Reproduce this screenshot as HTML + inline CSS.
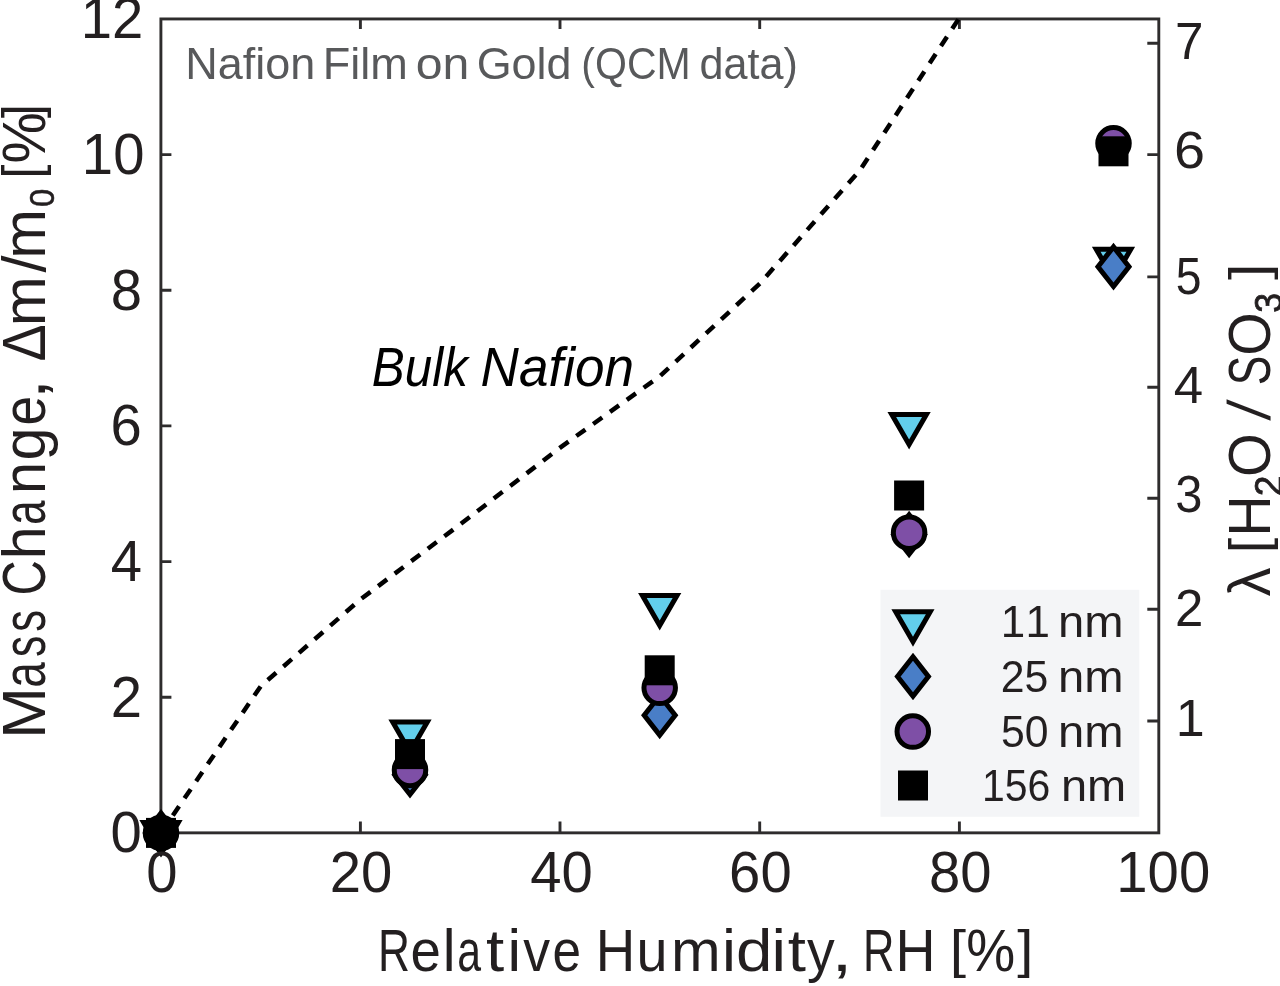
<!DOCTYPE html>
<html lang="en"><head><meta charset="utf-8"><title>Nafion Film on Gold (QCM data)</title>
<style>html,body{margin:0;padding:0;background:#fff;}svg{display:block;}text{font-family:"Liberation Sans",sans-serif;fill:#231f20;}</style>
</head><body>
<svg width="1280" height="986" viewBox="0 0 1280 986">
<rect width="1280" height="986" fill="#fff"/>
<rect x="880.5" y="589.8" width="258.8" height="227" fill="#f4f5f7"/>
<rect x="160.9" y="18.95" width="997.9" height="813.9" fill="none" stroke="#2e2c2d" stroke-width="2.9"/>
<path d="M360.4 832.9 v-11.5 M360.4 18.95 v10 M560.0 832.9 v-11.5 M560.0 18.95 v10 M759.7 832.9 v-11.5 M759.7 18.95 v10 M959.4 832.9 v-11.5 M959.4 18.95 v10 M160.9 697.2 h10.5 M160.9 561.6 h10.5 M160.9 425.9 h10.5 M160.9 290.3 h10.5 M160.9 154.6 h10.5 M1158.8 721.0 h-11.5 M1158.8 609.3 h-11.5 M1158.8 498.2 h-11.5 M1158.8 387.3 h-11.5 M1158.8 276.9 h-11.5 M1158.8 154.6 h-11.5 M1158.8 43.3 h-11.5" fill="none" stroke="#2e2c2d" stroke-width="2.9"/>
<g transform="translate(0 0.3)">
<path d="M161.0 832.6 L260.8 685.8 L360.6 599.0 L460.4 523.9 L560.2 447.3 L660.0 375.8 L759.8 283.3 L859.6 170.4 L959.4 17.4" fill="none" stroke="#000" stroke-width="4.5" stroke-dasharray="11.1 9.614" stroke-dashoffset="-0.34"/>
<path d="M143.7 822.1 L178.3 822.1 L161.0 852.1 Z" fill="#62ceeb" stroke="#000" stroke-width="5" stroke-linejoin="miter"/>
<path d="M392.7 721.7 L427.3 721.7 L410.0 751.7 Z" fill="#62ceeb" stroke="#000" stroke-width="5" stroke-linejoin="miter"/>
<path d="M642.4 595.2 L677.0 595.2 L659.7 625.2 Z" fill="#62ceeb" stroke="#000" stroke-width="5" stroke-linejoin="miter"/>
<path d="M891.8 414.3 L926.4 414.3 L909.1 444.3 Z" fill="#62ceeb" stroke="#000" stroke-width="5" stroke-linejoin="miter"/>
<path d="M1096.2 248.9 L1130.8 248.9 L1113.5 278.9 Z" fill="#62ceeb" stroke="#000" stroke-width="5" stroke-linejoin="miter"/>
<path d="M161.0 812.8 L176.4 832.6 L161.0 852.4 L145.6 832.6 Z" fill="#497ec7" stroke="#000" stroke-width="5" stroke-linejoin="miter"/>
<path d="M410.0 754.6 L425.4 774.4 L410.0 794.2 L394.6 774.4 Z" fill="#497ec7" stroke="#000" stroke-width="5" stroke-linejoin="miter"/>
<path d="M659.7 695.2 L675.2 715.0 L659.7 734.8 L644.2 715.0 Z" fill="#497ec7" stroke="#000" stroke-width="5" stroke-linejoin="miter"/>
<path d="M909.1 514.4 L924.6 534.2 L909.1 554.0 L893.6 534.2 Z" fill="#497ec7" stroke="#000" stroke-width="5" stroke-linejoin="miter"/>
<path d="M1113.5 246.6 L1129.0 266.4 L1113.5 286.2 L1098.0 266.4 Z" fill="#497ec7" stroke="#000" stroke-width="5" stroke-linejoin="miter"/>
<circle cx="161.0" cy="832.6" r="15.75" fill="#7e4fa6" stroke="#000" stroke-width="5"/>
<circle cx="410.0" cy="769.6" r="15.75" fill="#7e4fa6" stroke="#000" stroke-width="5"/>
<circle cx="659.7" cy="687.5" r="15.75" fill="#7e4fa6" stroke="#000" stroke-width="5"/>
<circle cx="909.1" cy="532.4" r="15.75" fill="#7e4fa6" stroke="#000" stroke-width="5"/>
<circle cx="1113.5" cy="143.0" r="15.75" fill="#7e4fa6" stroke="#000" stroke-width="5"/>
<rect x="146.0" y="817.6" width="30.0" height="30.0" fill="#000"/>
<rect x="395.0" y="738.8" width="30.0" height="30.0" fill="#000"/>
<rect x="644.7" y="655.0" width="30.0" height="30.0" fill="#000"/>
<rect x="894.1" y="480.2" width="30.0" height="30.0" fill="#000"/>
<rect x="1098.5" y="136.0" width="30.0" height="30.0" fill="#000"/>
<path d="M895.7 611.5 L930.2 611.5 L913.0 641.5 Z" fill="#62ceeb" stroke="#000" stroke-width="5" stroke-linejoin="miter"/>
<path d="M913.0 656.4 L928.4 676.2 L913.0 696.0 L897.5 676.2 Z" fill="#497ec7" stroke="#000" stroke-width="5" stroke-linejoin="miter"/>
<circle cx="912.8" cy="731.3" r="15.75" fill="#7e4fa6" stroke="#000" stroke-width="5"/>
<rect x="898.0" y="770.2" width="30.0" height="30.0" fill="#000"/>
<text transform="translate(0 637.0)"><tspan x="1000.81" y="0.00" font-size="44" textLength="24.43" lengthAdjust="spacingAndGlyphs">1</tspan><tspan x="1025.41" y="0.00" font-size="44" textLength="24.43" lengthAdjust="spacingAndGlyphs">1</tspan> <tspan x="1058.12" y="0.00" font-size="44" textLength="65.53" lengthAdjust="spacingAndGlyphs">nm</tspan></text>
<text transform="translate(0 691.9)"><tspan x="1000.66" y="0.00" font-size="44" textLength="47.55" lengthAdjust="spacingAndGlyphs">25</tspan> <tspan x="1058.12" y="0.00" font-size="44" textLength="65.53" lengthAdjust="spacingAndGlyphs">nm</tspan></text>
<text transform="translate(0 746.8)"><tspan x="1001.09" y="0.00" font-size="44" textLength="47.51" lengthAdjust="spacingAndGlyphs">50</tspan> <tspan x="1058.12" y="0.00" font-size="44" textLength="65.53" lengthAdjust="spacingAndGlyphs">nm</tspan></text>
<text transform="translate(0 801.0)"><tspan x="981.93" y="0.00" font-size="44" textLength="68.36" lengthAdjust="spacingAndGlyphs">156</tspan> <tspan x="1060.93" y="0.00" font-size="44" textLength="65.31" lengthAdjust="spacingAndGlyphs">nm</tspan></text>
<text transform="translate(146.22 892.00) scale(0.9700 1)" font-size="58">0</text>
<text transform="translate(329.82 892.00) scale(0.9700 1)" font-size="58">20</text>
<text transform="translate(530.20 892.00) scale(0.9700 1)" font-size="58">40</text>
<text transform="translate(729.12 892.00) scale(0.9700 1)" font-size="58">60</text>
<text transform="translate(929.04 892.00) scale(0.9700 1)" font-size="58">80</text>
<text transform="translate(1116.34 892.00) scale(0.9700 1)" font-size="58">100</text>
<text transform="translate(110.62 851.90) scale(0.9700 1)" font-size="58">0</text>
<text transform="translate(110.69 716.24) scale(0.9700 1)" font-size="58">2</text>
<text transform="translate(110.83 580.58) scale(0.9700 1)" font-size="58">4</text>
<text transform="translate(110.48 444.92) scale(0.9700 1)" font-size="58">6</text>
<text transform="translate(110.69 309.26) scale(0.9700 1)" font-size="58">8</text>
<text transform="translate(81.86 173.60) scale(0.9700 1)" font-size="58">10</text>
<text transform="translate(80.66 37.94) scale(0.9700 1)" font-size="58">12</text>
<text transform="translate(1175.70 736.00)" font-size="52">1</text>
<text transform="translate(1175.05 625.20) scale(0.9806 1)" font-size="52">2</text>
<text transform="translate(1175.17 512.00) scale(0.9393 1)" font-size="52">3</text>
<text transform="translate(1173.81 402.50) scale(1.0168 1)" font-size="52">4</text>
<text transform="translate(1175.75 293.90) scale(0.8907 1)" font-size="52">5</text>
<text transform="translate(1174.01 167.60) scale(1.0728 1)" font-size="52">6</text>
<text transform="translate(1174.91 58.40) scale(0.9860 1)" font-size="52">7</text>
<text transform="translate(0 78.6)" style="fill:#58595b"><tspan x="185.19" y="0.00" font-size="44.5" textLength="130.07" lengthAdjust="spacingAndGlyphs">Nafion</tspan> <tspan x="322.68" y="0.00" font-size="44.5" textLength="85.08" lengthAdjust="spacingAndGlyphs">Film</tspan> <tspan x="415.65" y="0.00" font-size="44.5" textLength="53.59" lengthAdjust="spacingAndGlyphs">on</tspan> <tspan x="476.65" y="0.00" font-size="44.5" textLength="94.86" lengthAdjust="spacingAndGlyphs">Gold</tspan> <tspan x="581.34" y="0.00" font-size="44.5" textLength="109.39" lengthAdjust="spacingAndGlyphs">(QCM</tspan> <tspan x="699.57" y="0.00" font-size="44.5" textLength="98.41" lengthAdjust="spacingAndGlyphs">data)</tspan></text>
<text transform="translate(0 385.7)" font-style="italic" style="fill:#000"><tspan x="371.82" y="0.00" font-size="55" textLength="96.02" lengthAdjust="spacingAndGlyphs">Bulk</tspan> <tspan x="480.61" y="0.00" font-size="55" textLength="153.42" lengthAdjust="spacingAndGlyphs">Nafion</tspan></text>
<text transform="translate(0 970.8)"><tspan x="377.89" y="0.00" font-size="59.5" textLength="32.00" lengthAdjust="spacingAndGlyphs">R</tspan><tspan x="410.48" y="0.00" font-size="59.5" textLength="30.35" lengthAdjust="spacingAndGlyphs">e</tspan><tspan x="442.65" y="0.00" font-size="59.5" textLength="12.82" lengthAdjust="spacingAndGlyphs">l</tspan><tspan x="457.23" y="0.00" font-size="59.5" textLength="23.77" lengthAdjust="spacingAndGlyphs">a</tspan><tspan x="486.00" y="0.00" font-size="59.5" textLength="18.19" lengthAdjust="spacingAndGlyphs">t</tspan><tspan x="507.42" y="0.00" font-size="59.5" textLength="13.59" lengthAdjust="spacingAndGlyphs">i</tspan><tspan x="523.13" y="0.00" font-size="59.5" textLength="26.84" lengthAdjust="spacingAndGlyphs">v</tspan><tspan x="552.52" y="0.00" font-size="59.5" textLength="28.52" lengthAdjust="spacingAndGlyphs">e</tspan> <tspan x="595.69" y="0.00" font-size="59.5" textLength="39.51" lengthAdjust="spacingAndGlyphs">H</tspan><tspan x="636.48" y="0.00" font-size="59.5" textLength="31.01" lengthAdjust="spacingAndGlyphs">u</tspan><tspan x="671.02" y="0.00" font-size="59.5" textLength="49.68" lengthAdjust="spacingAndGlyphs">m</tspan><tspan x="722.06" y="0.00" font-size="59.5" textLength="13.97" lengthAdjust="spacingAndGlyphs">i</tspan><tspan x="736.09" y="0.00" font-size="59.5" textLength="36.40" lengthAdjust="spacingAndGlyphs">d</tspan><tspan x="771.62" y="0.00" font-size="59.5" textLength="14.54" lengthAdjust="spacingAndGlyphs">i</tspan><tspan x="787.72" y="0.00" font-size="59.5" textLength="18.19" lengthAdjust="spacingAndGlyphs">t</tspan><tspan x="806.96" y="0.00" font-size="59.5" textLength="27.68" lengthAdjust="spacingAndGlyphs">y</tspan><tspan x="831.28" y="0.00" font-size="59.5" textLength="21.37" lengthAdjust="spacingAndGlyphs">,</tspan> <tspan x="863.01" y="0.00" font-size="59.5" textLength="31.45" lengthAdjust="spacingAndGlyphs">R</tspan><tspan x="895.53" y="0.00" font-size="59.5" textLength="40.03" lengthAdjust="spacingAndGlyphs">H</tspan> <tspan x="949.74" y="-4.50" font-size="51" textLength="16.32" lengthAdjust="spacingAndGlyphs">[</tspan><tspan x="966.37" y="0.00" font-size="59.5" textLength="48.95" lengthAdjust="spacingAndGlyphs">%</tspan><tspan x="1017.17" y="-4.50" font-size="51" textLength="16.12" lengthAdjust="spacingAndGlyphs">]</tspan></text>
<text transform="translate(44.8 735.0) rotate(-90)"><tspan x="-3.42" y="0.00" font-size="61" textLength="51.67" lengthAdjust="spacingAndGlyphs">M</tspan><tspan x="47.54" y="0.00" font-size="61" textLength="25.61" lengthAdjust="spacingAndGlyphs">a</tspan><tspan x="78.43" y="0.00" font-size="61" textLength="21.26" lengthAdjust="spacingAndGlyphs">s</tspan><tspan x="103.51" y="0.00" font-size="61" textLength="21.71" lengthAdjust="spacingAndGlyphs">s</tspan> <tspan x="139.76" y="0.00" font-size="61" textLength="35.28" lengthAdjust="spacingAndGlyphs">C</tspan><tspan x="176.15" y="0.00" font-size="61" textLength="32.97" lengthAdjust="spacingAndGlyphs">h</tspan><tspan x="210.42" y="0.00" font-size="61" textLength="24.63" lengthAdjust="spacingAndGlyphs">a</tspan><tspan x="241.32" y="0.00" font-size="61" textLength="31.99" lengthAdjust="spacingAndGlyphs">n</tspan><tspan x="274.87" y="0.00" font-size="61" textLength="33.12" lengthAdjust="spacingAndGlyphs">g</tspan><tspan x="309.84" y="0.00" font-size="61" textLength="29.58" lengthAdjust="spacingAndGlyphs">e</tspan><tspan x="335.76" y="0.00" font-size="61" textLength="20.80" lengthAdjust="spacingAndGlyphs">,</tspan> <tspan x="373.93" y="0.00" font-size="61" textLength="37.16" lengthAdjust="spacingAndGlyphs">Δ</tspan><tspan x="409.05" y="0.00" font-size="61" textLength="49.98" lengthAdjust="spacingAndGlyphs">m</tspan><tspan x="462.89" y="0.00" font-size="61" textLength="16.95" lengthAdjust="spacingAndGlyphs">/</tspan><tspan x="476.57" y="0.00" font-size="61" textLength="49.74" lengthAdjust="spacingAndGlyphs">m</tspan><tspan x="528.29" y="9.50" font-size="35" textLength="18.17" lengthAdjust="spacingAndGlyphs" stroke="#231f20" stroke-width="0.5">0</tspan><tspan x="556.87" y="-4.80" font-size="53" textLength="13.93" lengthAdjust="spacingAndGlyphs">[</tspan><tspan x="571.78" y="0.00" font-size="61" textLength="51.34" lengthAdjust="spacingAndGlyphs">%</tspan><tspan x="617.12" y="-4.80" font-size="53" textLength="14.03" lengthAdjust="spacingAndGlyphs">]</tspan></text>
<text transform="translate(1270.4 600.0) rotate(-90)"><tspan x="3.77" y="0.00" font-size="60" textLength="28.91" lengthAdjust="spacingAndGlyphs">λ</tspan> <tspan x="47.16" y="-3.90" font-size="52.8" textLength="15.48" lengthAdjust="spacingAndGlyphs">[</tspan><tspan x="63.45" y="0.00" font-size="60" textLength="41.58" lengthAdjust="spacingAndGlyphs">H</tspan><tspan x="104.14" y="11.70" font-size="38" textLength="20.66" lengthAdjust="spacingAndGlyphs" stroke="#231f20" stroke-width="0.8">2</tspan><tspan x="123.43" y="0.00" font-size="60" textLength="43.76" lengthAdjust="spacingAndGlyphs">O</tspan> </text>
<text transform="translate(1270.40 600.00) rotate(-90) translate(179.60 0.00) skewX(-7.00) scale(0.9705 1)" font-size="60">/</text>
<text transform="translate(1270.4 600.0) rotate(-90)"><tspan x="215.10" y="0.00" font-size="60" textLength="29.58" lengthAdjust="spacingAndGlyphs">S</tspan><tspan x="244.56" y="0.00" font-size="60" textLength="43.31" lengthAdjust="spacingAndGlyphs">O</tspan><tspan x="287.57" y="11.30" font-size="38" textLength="19.79" lengthAdjust="spacingAndGlyphs" stroke="#231f20" stroke-width="0.8">3</tspan><tspan x="320.35" y="-3.90" font-size="52.8" textLength="16.53" lengthAdjust="spacingAndGlyphs">]</tspan></text>
</g>
</svg></body></html>
